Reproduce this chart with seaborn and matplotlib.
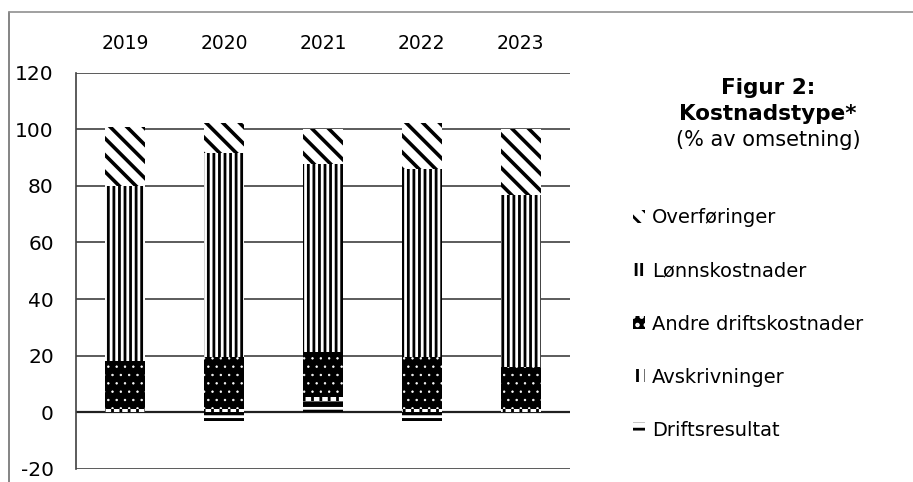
import numpy as np
import seaborn as sns
import matplotlib.pyplot as plt
from matplotlib.patches import Patch
from matplotlib.lines import Line2D

# data (% av omsetning)
years = ["2019", "2020", "2021", "2022", "2023"]
driftsresultat = [0.3, -2.9, 4.0, -2.9, 0.3]
avskrivninger = [1.0, 1.2, 1.5, 1.2, 1.0]
andre_drift = [17.0, 18.5, 15.9, 18.5, 14.8]
lonnskostnader = [61.7, 72.0, 66.3, 66.1, 60.7]
overforinger = [20.7, 10.4, 12.3, 16.3, 23.2]
y_ticks = [-20, 0, 20, 40, 60, 80, 100, 120]

sns.set_style("white")
plt.rcParams["font.family"] = ["DejaVu Sans"]
plt.rcParams["axes.unicode_minus"] = False
plt.rcParams["text.color"] = "black"
plt.rcParams["xtick.color"] = "black"
plt.rcParams["ytick.color"] = "black"
plt.rcParams["hatch.linewidth"] = 2.0

# stacking order bottom -> top: name, values, fill style, hatch line width
series = [
    ("Driftsresultat", driftsresultat, dict(color="white", edgecolor="black", hatch="--"), 4.0),
    ("Avskrivninger", avskrivninger, dict(color="white", edgecolor="black", hatch="||"), 2.0),
    ("Andre driftskostnader", andre_drift, dict(color="black", edgecolor="white", hatch=".."), 0.5),
    ("Lønnskostnader", lonnskostnader, dict(color="white", edgecolor="black", hatch="|||"), 2.0),
    ("Overføringer", overforinger, dict(color="white", edgecolor="black", hatch="\\\\"), 2.6),
]

fig = plt.figure(figsize=(9.13, 4.82), dpi=100)
ax = fig.add_axes([76 / 913, 1 - 469 / 482, 494 / 913, 396.5 / 482])

# positive values stack upward from 0, negative ones downward
pos = np.zeros(len(years))
neg = np.zeros(len(years))
for name, vals, style, hlw in series:
    v = np.array(vals)
    bottom = np.where(v >= 0, pos, neg)
    n_before = len(ax.patches)
    sns.barplot(x=years, y=v, order=years, bottom=bottom, width=0.405,
                errorbar=None, saturation=1, linewidth=0, ax=ax, zorder=3, **style)
    for p in ax.patches[n_before:]:
        if hasattr(p, "set_hatch_linewidth"):
            p.set_hatch_linewidth(hlw)
    pos += np.clip(v, 0, None)
    neg += np.clip(v, None, 0)

ax.set_ylim(-20, 120)
ax.set_yticks(y_ticks)
ax.yaxis.grid(True, color="#404040", lw=1.2)
ax.set_axisbelow(True)
ax.axhline(0, color="#202020", lw=1.6, zorder=1)
for s in ["top", "right", "bottom"]:
    ax.spines[s].set_visible(False)
ax.spines["left"].set_color("#404040")
ax.spines["left"].set_linewidth(1.2)
ax.xaxis.tick_top()
ax.tick_params(axis="x", length=0, pad=14, labelsize=13.5)
ax.tick_params(axis="y", length=0, pad=16, labelsize=14.5)
ax.set_xlabel("")
ax.set_ylabel("")

# title block on the right
fig.text(768 / 913, 1 - 88 / 482, "Figur 2:", ha="center", va="center",
         fontsize=15.5, fontweight="bold")
fig.text(768 / 913, 1 - 114 / 482, "Kostnadstype*", ha="center", va="center",
         fontsize=15.5, fontweight="bold")
fig.text(768 / 913, 1 - 140 / 482, "(% av omsetning)", ha="center", va="center",
         fontsize=15)

# legend, top entry first
handles = [Patch(facecolor=st["color"], edgecolor=st["edgecolor"], hatch=st["hatch"], lw=0)
           for _, _, st, _ in series[::-1]]
labels = [name for name, _, _, _ in series[::-1]]
fig.legend(handles, labels, loc="center left", bbox_to_anchor=(633 / 913, 1 - 324 / 482),
           frameon=False, fontsize=14, handlelength=0.62, handleheight=0.62,
           handletextpad=0.35, labelspacing=1.75, borderpad=0, borderaxespad=0)

# outer frame of the chart area
fig.add_artist(Line2D([9 / 913, 9 / 913], [0, 1 - 12 / 482], color="#707070", lw=1.2))
fig.add_artist(Line2D([9 / 913, 1], [1 - 12 / 482, 1 - 12 / 482], color="#909090", lw=1.2))

fig.savefig("out.png", dpi=100)
